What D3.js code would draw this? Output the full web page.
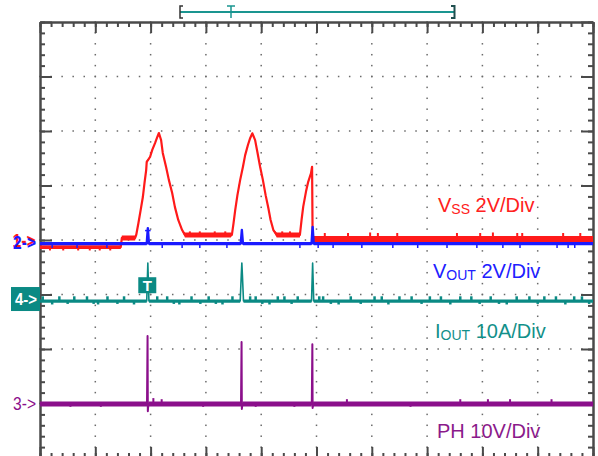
<!DOCTYPE html>
<html>
<head>
<meta charset="utf-8">
<script src="https://cdn.jsdelivr.net/npm/d3@7"></script>
<style>
  html, body { margin: 0; padding: 0; background: #fff; }
  svg { display: block; }
  text { font-family: "Liberation Sans", Arial, sans-serif; }
</style>
</head>
<body>
<svg id="scope" width="598" height="456"></svg>
<script>
// Time axis in graticule divisions (10 across), vertical in divisions (8 tall, centre = 0)
const majorX = d3.range(0, 11, 1);
const minorX = d3.range(0, 10.001, 0.2);
const majorY = d3.range(-4, 5, 1);
const minorY = d3.range(-4, 4.001, 0.2);

// CH1 : V_SS, 2 V/div  (time, volts, noise half-width in volts)
const vssT = [0, 1.46, 1.48, 1.72, 1.74, 1.78, 1.82, 1.86, 1.89, 1.92, 1.93, 1.99, 2.03, 2.08, 2.12, 2.15,
              2.19, 2.22, 2.28, 2.33, 2.39, 2.44, 2.50, 2.57, 2.62,
              3.45, 3.47, 3.50, 3.53, 3.57, 3.62, 3.67, 3.71, 3.76, 3.80, 3.84,
              3.89, 3.93, 3.98, 4.03, 4.08, 4.13, 4.17, 4.22, 4.28,
              4.70, 4.73, 4.76, 4.81, 4.85, 4.90, 4.92, 4.93, 10];
const vssV = [-0.08, -0.08, 0.26, 0.26, 0.37, 0.81, 1.28, 1.76, 2.28, 2.75, 3.05, 3.23, 3.49, 3.74, 3.96, 4.11,
              3.85, 3.38, 2.86, 2.39, 1.91, 1.39, 0.92, 0.55, 0.37,
              0.37, 0.37, 0.80, 1.28, 1.83, 2.39, 2.87, 3.30, 3.67, 3.92, 4.10,
              3.85, 3.42, 2.87, 2.39, 1.83, 1.35, 0.92, 0.55, 0.37,
              0.37, 0.92, 1.41, 1.96, 2.32, 2.63, 2.87, 0.20, 0.20];
const vssNoise = [0.07, 0.07, 0.09, 0.09, 0.04, 0.03, 0.03, 0.03, 0.03, 0.03, 0.05, 0.05, 0.03, 0.03, 0.03, 0.03,
                  0.03, 0.03, 0.03, 0.03, 0.03, 0.03, 0.03, 0.03, 0.09,
                  0.09, 0.04, 0.03, 0.03, 0.03, 0.03, 0.03, 0.03, 0.03, 0.03, 0.03,
                  0.03, 0.03, 0.03, 0.03, 0.03, 0.03, 0.03, 0.03, 0.09,
                  0.09, 0.03, 0.03, 0.03, 0.03, 0.03, 0.03, 0.13, 0.13];
const vssGlitchT = [0.18, 0.42, 0.69, 0.90, 1.08, 1.27, 2.71, 2.89, 3.16, 3.35, 4.38, 4.52,
                    5.15, 5.57, 5.97, 6.11, 6.46, 7.54, 7.96, 8.19, 8.63, 8.72, 9.46, 9.77];
const vssGlitchV = [-0.2, -0.2, -0.2, -0.2, -0.2, -0.2, 0.50, 0.50, 0.50, 0.50, 0.50, 0.50,
                    0.44, 0.44, 0.46, 0.44, 0.44, 0.44, 0.44, 0.46, 0.44, 0.44, 0.44, 0.44];

// CH2 : V_OUT, 2 V/div
const voutT = [0, 1.93, 1.95, 1.97, 3.63, 3.65, 3.67, 4.91, 4.93, 4.95, 10];
const voutV = [-0.06, -0.06, 0.51, -0.06, -0.06, 0.44, -0.06, -0.06, 0.55, -0.06, -0.06];
const voutNoise = [0.06, 0.06, 0, 0.06, 0.06, 0, 0.06, 0.06, 0, 0.06, 0.06];
const voutGlitchT = [0.22, 0.67, 1.21, 2.21, 2.57, 2.89, 3.38, 4.70, 5.03, 5.30, 5.82, 6.38, 6.83, 7.36, 7.90,
                     8.37, 8.68, 9.35, 9.55, 9.67];
const voutGlitchV = [-0.22, -0.22, -0.22, -0.22, -0.22, -0.22, -0.22, -0.22, -0.22, -0.22, -0.22, -0.22, -0.22,
                     -0.22, -0.22, -0.22, -0.22, -0.22, -0.22, -0.22];

// CH4 : I_OUT, 10 A/div
const ioutT = [0, 1.93, 1.95, 1.97, 3.62, 3.64, 3.65, 3.66, 3.68, 4.91, 4.93, 4.95, 10];
const ioutV = [-0.37, -0.37, 6.6, -0.37, -0.37, 4.4, 6.6, 4.4, -0.37, -0.37, 6.6, -0.37, -0.37];
const ioutNoise = [0.3, 0.3, 0, 0.3, 0.3, 0, 0, 0, 0.3, 0.3, 0, 0.3, 0.3];
const ioutGlitchT = [0.05, 0.22, 0.35, 0.50, 0.62, 0.85, 0.97, 1.05, 1.22, 1.40, 1.52, 1.70, 2.12, 2.30, 2.42, 2.52,
                     2.74, 2.90, 3.05, 3.18, 3.30, 3.48, 3.80, 3.90, 4.02, 4.15, 4.30, 4.42, 4.55, 4.66, 5.05, 5.12,
                     5.26, 5.40, 5.62, 5.80, 6.05, 6.18, 6.30, 6.50, 6.72, 6.90, 7.05, 7.25, 7.42, 7.60, 7.80, 7.95,
                     8.15, 8.30, 8.44, 8.62, 8.85, 9.00, 9.12, 9.33, 9.50, 9.66, 9.80, 9.93];
const ioutGlitchV = [0.5, -1.0, 0.5, -0.9, 0.5, 0.5, -0.9, -1.0, 0.5, -0.9, 0.5, -1.0, 0.5, 0.5, -0.9, -1.0,
                     0.5, -0.9, 0.5, -0.9, -1.0, 0.5, 0.5, 0.5, -0.9, -1.0, 0.5, 0.5, -0.9, 0.5, 0.5, 0.5,
                     -0.9, -1.0, 0.5, -0.9, 0.5, 0.5, -1.0, 0.5, 0.5, -0.9, 0.5, 0.5, -1.0, 0.5, 0.5, -0.9,
                     0.5, -0.9, -1.0, 0.5, 0.5, -0.9, 0.5, 0.5, -1.0, 0.5, 0.5, -0.9];

// CH3 : PH, 10 V/div
const phT = [0, 1.935, 1.945, 1.95, 1.96, 3.635, 3.645, 3.65, 3.66, 4.915, 4.925, 4.93, 4.94, 10];
const phV = [-0.18, -0.18, 12.3, -1.5, -0.18, -0.18, 11.2, -1.1, -0.18, -0.18, 10.8, -0.9, -0.18, -0.18];
const phNoise = [0.45, 0.45, 0, 0, 0.45, 0.45, 0, 0, 0.45, 0.45, 0, 0, 0.45, 0.45];
const phGlitchT = [0.55, 1.10, 2.05, 2.20, 2.95, 3.90, 4.60, 5.55, 6.70, 7.60, 8.10, 8.50, 9.25];
const phGlitchV = [-0.7, -0.7, 0.9, 0.7, -0.7, -0.7, -0.7, 0.7, -0.7, 0.7, 0.7, 0.7, 0.7];

// Channel settings: ground reference (div from centre) and units per division
const channels = [
  { id: "1", offset: -0.092, perDiv: 2,  colour: "#ff1a1a" },
  { id: "2", offset: -0.037, perDiv: 2,  colour: "#1a1aff" },
  { id: "4", offset: -1.083, perDiv: 10, colour: "#0b8a84" },
  { id: "3", offset: -2.991, perDiv: 10, colour: "#8b0f8b" }
];
const ch = Object.fromEntries(channels.map(c => [c.id, c]));

const svg = d3.select("#scope");
const x = d3.scaleLinear().domain([0, 10]).range([40, 593]);
const y = d3.scaleLinear().domain([-4, 4]).range([458, 22]);
const yCh = c => v => y(c.offset + v / c.perDiv);

// ---- graticule dots ----
const dots = svg.append("g").attr("fill", "#6a6a6a");
majorX.slice(1, -1).forEach(mx => {
  minorY.forEach(my => dots.append("rect").attr("x", x(mx) - 0.75).attr("y", y(my) - 0.75).attr("width", 1.5).attr("height", 1.5));
});
majorY.slice(1, -1).forEach(my => {
  minorX.forEach(mx => dots.append("rect").attr("x", x(mx) - 0.75).attr("y", y(my) - 0.75).attr("width", 1.5).attr("height", 1.5));
});

// ---- border with tick marks ----
function border(axisFn, scale, vals, size, transform) {
  const g = svg.append("g").attr("transform", transform)
    .call(axisFn(scale).tickValues(vals).tickSize(size).tickSizeOuter(0).tickFormat(""));
  g.selectAll("line").attr("stroke", "#4a4a4a").attr("stroke-width", 2);
  g.select(".domain").attr("stroke", "#4a4a4a").attr("stroke-width", 2);
  return g;
}
border(d3.axisBottom, x, minorX, 5, "translate(0,22)");
border(d3.axisBottom, x, majorX, 11, "translate(0,22)");
border(d3.axisTop, x, minorX, 5, "translate(0,458)");
border(d3.axisTop, x, majorX, 11, "translate(0,458)");
border(d3.axisRight, y, minorY, 5, "translate(40,0)");
border(d3.axisRight, y, majorY, 12, "translate(40,0)");
border(d3.axisLeft, y, minorY, 5, "translate(593,0)");
border(d3.axisLeft, y, majorY, 12, "translate(593,0)");

// ---- traces ----
function glitches(c, base, ts, vs, w) {
  const yc = yCh(c);
  svg.append("g").attr("stroke", c.colour).attr("stroke-width", w)
    .selectAll("line").data(ts.map((t, i) => [t, vs[i]])).join("line")
    .attr("x1", d => x(d[0])).attr("x2", d => x(d[0]))
    .attr("y1", yc(base)).attr("y2", d => yc(d[1]));
}
function trace(c, ts, vs, noise, w) {
  const yc = yCh(c);
  const pts = ts.map((t, i) => [t, vs[i], noise[i]]);
  svg.append("path").datum(pts)
    .attr("d", d3.area().x(d => x(d[0])).y0(d => yc(d[1] - d[2])).y1(d => yc(d[1] + d[2])))
    .attr("fill", c.colour);
  svg.append("path").datum(pts)
    .attr("d", d3.line().x(d => x(d[0])).y(d => yc(d[1])))
    .attr("fill", "none").attr("stroke", c.colour)
    .attr("stroke-width", w).attr("stroke-linejoin", "round");
}

// PH
glitches(ch["3"], -0.18, phGlitchT, phGlitchV, 2);
trace(ch["3"], phT, phV, phNoise, 2);

// I_OUT
glitches(ch["4"], -0.37, ioutGlitchT, ioutGlitchV, 2.5);
trace(ch["4"], ioutT, ioutV, ioutNoise, 1.6);

// V_SS
{
  const c = ch["1"];
  trace(c, vssT, vssV, vssNoise, 2.2);
  const pick = f => [vssGlitchT.filter(f), vssGlitchV.filter((v, i) => f(vssGlitchT[i]))];
  glitches(c, 0.2, ...pick(t => t > 4.93), 2);
  glitches(c, -0.08, ...pick(t => t < 1.46), 2);
  glitches(c, 0.37, ...pick(t => t > 2.6 && t < 4.7), 2);
}

// V_OUT
glitches(ch["2"], -0.06, voutGlitchT, voutGlitchV, 1.5);
trace(ch["2"], voutT, voutV, voutNoise, 2.4);
{
  const c = ch["2"], yc = yCh(c);
  svg.append("line").attr("x1", x(1.90)).attr("x2", x(2.00)).attr("y1", yc(0.42)).attr("y2", yc(0.42))
    .attr("stroke", c.colour).attr("stroke-width", 1.5);
}

// ---- channel ground markers (CH1 sits just behind CH2) ----
function groundMark(c, xr, dy, bold) {
  svg.append("text").attr("x", xr).attr("y", yCh(c)(0) + dy).attr("dy", "0.36em")
    .attr("text-anchor", "end").attr("font-size", "19px").attr("font-weight", bold ? "bold" : "normal")
    .attr("textLength", 23).attr("lengthAdjust", "spacingAndGlyphs")
    .attr("fill", c.colour).text(c.id + "->");
}
groundMark(ch["1"], 35.5, -4.5, true);
groundMark(ch["2"], 36, 0, true);
groundMark(ch["3"], 36, 0, false);
{
  const y4 = yCh(ch["4"])(0);
  svg.append("rect").attr("x", 11).attr("y", y4 - 12).attr("width", 29).attr("height", 24).attr("fill", ch["4"].colour);
  svg.append("text").attr("x", 26).attr("y", y4).attr("dy", "0.36em").attr("text-anchor", "middle")
    .attr("font-weight", "bold").attr("font-size", "16px").attr("textLength", 22).attr("lengthAdjust", "spacingAndGlyphs")
    .attr("fill", "#fff").text("4->");
}

// ---- trigger point marker on I_OUT ----
{
  const tx = x(1.94), yc = yCh(ch["4"]);
  svg.append("rect").attr("x", tx - 9).attr("y", yc(4.0)).attr("width", 18).attr("height", 16).attr("fill", ch["4"].colour);
  svg.append("text").attr("x", tx).attr("y", yc(4.0) + 8).attr("dy", "0.36em").attr("text-anchor", "middle")
    .attr("font-weight", "bold").attr("font-size", "15px").attr("fill", "#fff").text("T");
}

// ---- record-position bar above graticule ----
{
  const bar = svg.append("g");
  bar.append("line").attr("x1", 180).attr("x2", 454).attr("y1", 12).attr("y2", 12).attr("stroke", "#1a9590").attr("stroke-width", 2);
  bar.append("path").attr("d", "M183,6H180V18H183").attr("fill", "none").attr("stroke", "#333").attr("stroke-width", 1.5);
  bar.append("path").attr("d", "M451,6H454.5V18H451").attr("fill", "none").attr("stroke", "#1f4f4f").attr("stroke-width", 2);
  bar.append("path").attr("d", "M227,6H235M231,6V18").attr("fill", "none").attr("stroke", "#1a9590").attr("stroke-width", 1.5);
}

// ---- channel captions ----
function caption(xp, yp, main, sub, rest, colour) {
  const t = svg.append("text").attr("x", xp).attr("y", yp).attr("font-size", "20px").attr("fill", colour);
  t.append("tspan").text(main);
  t.append("tspan").attr("font-size", "14px").attr("dy", 2).text(sub);
  t.append("tspan").attr("dy", -2).text(rest);
}
caption(438, 212, "V", "SS", " 2V/Div", "#ff2020");
caption(433, 278, "V", "OUT", " 2V/Div", "#2020ff");
caption(435, 338, "I", "OUT", " 10A/Div", "#12908a");
svg.append("text").attr("x", 437).attr("y", 438).attr("font-size", "20px").attr("fill", "#8b1a8b").text("PH 10V/Div");
</script>
</body>
</html>
